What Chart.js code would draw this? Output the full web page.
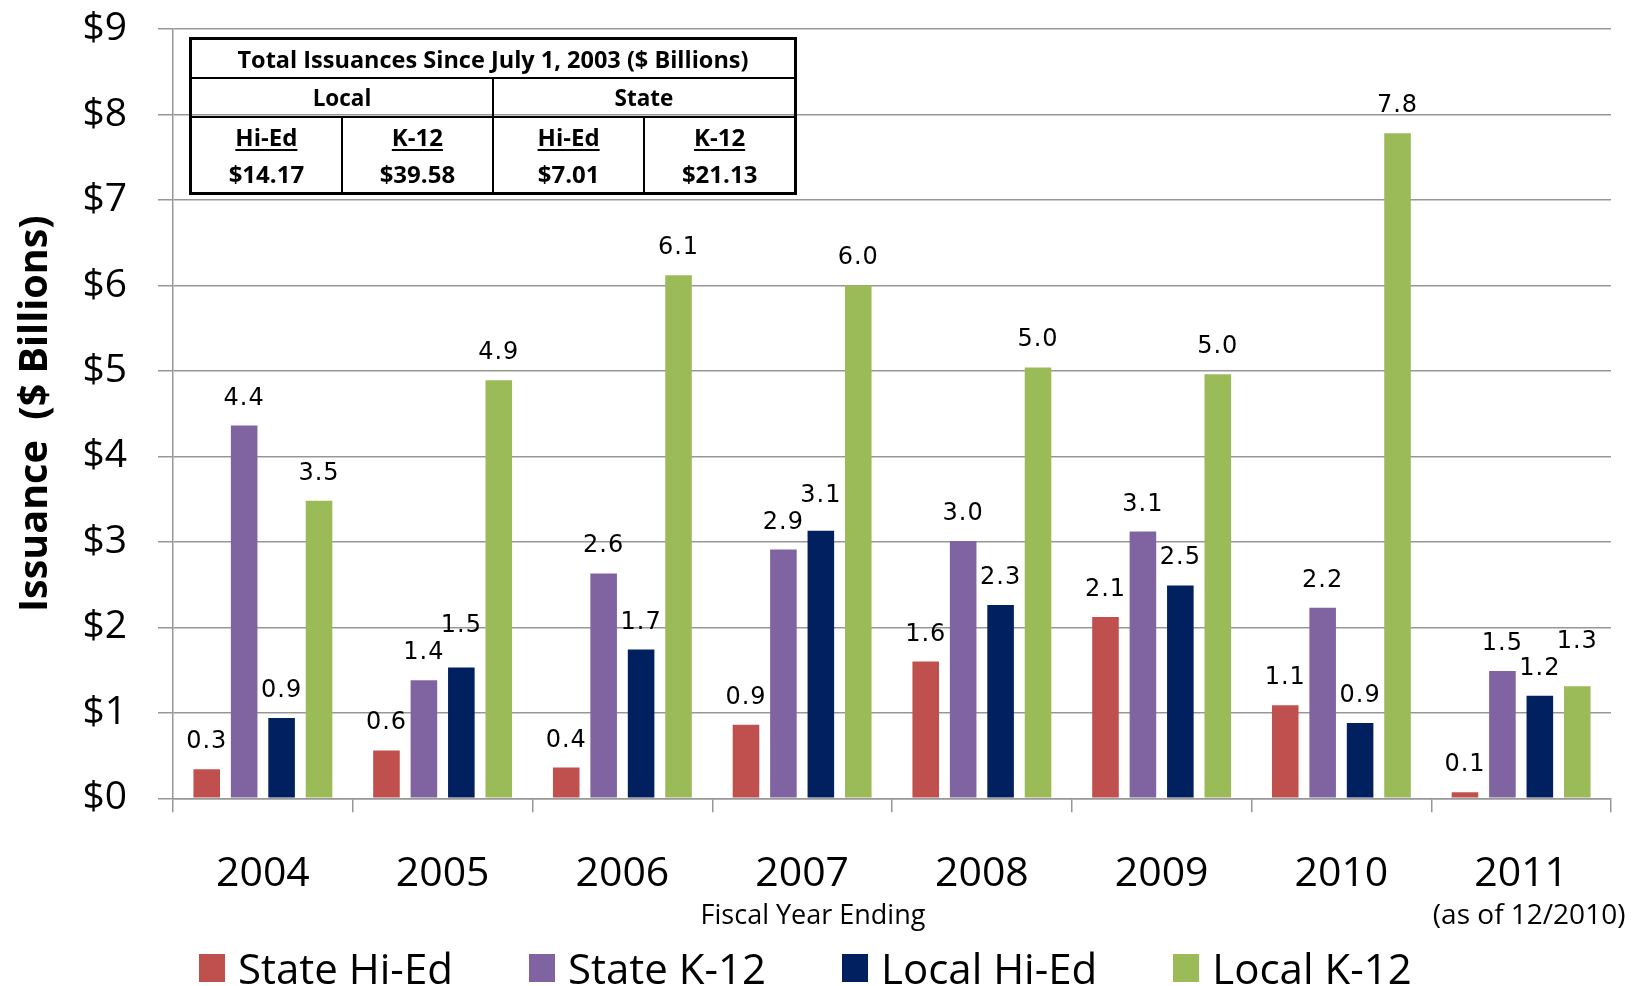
<!DOCTYPE html>
<html>
<head>
<meta charset="utf-8">
<script src="https://cdn.jsdelivr.net/npm/chart.js@4.4.0/dist/chart.umd.min.js"></script>
<style>
  html, body { margin: 0; padding: 0; background: #fff; }
  #wrap { position: relative; width: 1643px; height: 986px; overflow: hidden; }
  #c { position: absolute; left: 0; top: 0; }
  #tot { position: absolute; left: 189px; top: 37px; width: 608px; height: 155px;
         border-collapse: collapse; border: 3px solid #000; font-family: 'Open Sans', sans-serif;
         font-weight: bold; color: #000; table-layout: fixed; }
  #tot td { border: 2px solid #000; text-align: center; padding: 0; }
  #tot .t { font-size: 23.5px; height: 37px; }
  #tot .g { font-size: 22.5px; height: 37px; }
  #tot .v { font-size: 24px; line-height: 37px; vertical-align: middle; }
  #tot .v u { text-decoration-thickness: 2px; text-underline-offset: 3px; }
  #legend { position: absolute; left: 199px; top: 943px; height: 50px; display: flex; align-items: center;
            font-family: 'Open Sans', sans-serif; font-size: 42px; color: #000; white-space: nowrap; }
  #legend .it { display: flex; align-items: center; margin-right: 76px; line-height: 50px; }
  #legend .sw { width: 26px; height: 28px; margin-right: 13px; flex: none; }
</style>
</head>
<body>
<div id="wrap">
  <canvas id="c" width="1643" height="986"></canvas>
  <table id="tot"></table>
  <div id="legend"></div>
</div>
<script>
// ---- data ----
const categories = ['2004', '2005', '2006', '2007', '2008', '2009', '2010', '2011'];
const seriesNames = ['State Hi-Ed', 'State K-12', 'Local Hi-Ed', 'Local K-12'];
const stateHiEd  = [0.34, 0.56, 0.36, 0.86, 1.60, 2.12, 1.09, 0.07];
const stateK12   = [4.36, 1.38, 2.63, 2.91, 3.01, 3.12, 2.23, 1.49];
const localHiEd  = [0.94, 1.53, 1.74, 3.13, 2.26, 2.49, 0.88, 1.20];
const localK12   = [3.48, 4.89, 6.12, 6.00, 5.04, 4.96, 7.78, 1.31];
const yTickValues = [0, 1, 2, 3, 4, 5, 6, 7, 8, 9];
const xTitle = 'Fiscal Year Ending';
const lastYearNote = '(as of 12/2010)';
const yTitle = 'Issuance  ($ Billions)';
const tableTitle = 'Total Issuances Since July 1, 2003 ($ Billions)';
const tableGroups = ['Local', 'State'];
const tableSubs = ['Hi-Ed', 'K-12', 'Hi-Ed', 'K-12'];
const tableTotals = ['$14.17', '$39.58', '$7.01', '$21.13'];

const colors = ['#C0504D', '#8064A2', '#002060', '#9BBB59'];
const seriesValues = [stateHiEd, stateK12, localHiEd, localK12];

// ---- table ----
(function buildTable() {
  const t = document.getElementById('tot');
  let h = '<tr><td class="t" colspan="4">' + tableTitle + '</td></tr>';
  h += '<tr>' + tableGroups.map(g => '<td class="g" colspan="2">' + g + '</td>').join('') + '</tr>';
  h += '<tr>' + tableSubs.map((s, i) => '<td class="v"><u>' + s + '</u><br>' + tableTotals[i] + '</td>').join('') + '</tr>';
  t.innerHTML = h;
})();

// ---- legend ----
(function buildLegend() {
  const l = document.getElementById('legend');
  l.innerHTML = seriesNames.map((n, i) =>
    '<div class="it"><div class="sw" style="background:' + colors[i] + '"></div><span>' + n + '</span></div>').join('');
})();

// ---- label plugin ----
const labelPlugin = {
  id: 'barLabels',
  afterDatasetsDraw(chart) {
    const ctx = chart.ctx;
    ctx.save();
    ctx.font = '24px "DejaVu Sans"';
    if ('letterSpacing' in ctx) ctx.letterSpacing = '1px';
    ctx.fillStyle = '#000';
    ctx.textAlign = 'center';
    ctx.textBaseline = 'alphabetic';
    const n = chart.data.labels.length;
    for (let i = 0; i < n; i++) {
      let prevBase = null;
      chart.data.datasets.forEach((ds, di) => {
        const el = chart.getDatasetMeta(di).data[i];
        let base = el.y - 21;
        if (prevBase !== null && base > prevBase - 27 && base < prevBase + 22) {
          base = prevBase - 27;
        }
        ctx.fillText(ds.data[i].toFixed(1), el.x, base);
        prevBase = base;
      });
    }
    if ('letterSpacing' in ctx) ctx.letterSpacing = '0px';
    // axis texts
    ctx.font = '27px "Open Sans"';
    ctx.fillText(xTitle, 813, 924);
    const xs = chart.scales.x;
    ctx.font = '28px "Open Sans"';
    ctx.fillText(lastYearNote, xs.getPixelForValue(categories.length - 1) + 8, 924);
    ctx.restore();
  }
};

const gridColor = '#979797';

new Chart(document.getElementById('c'), {
  type: 'bar',
  data: {
    labels: categories,
    datasets: seriesNames.map((name, i) => ({
      label: name,
      data: seriesValues[i],
      backgroundColor: colors[i],
      borderWidth: 0,
      categoryPercentage: 0.833,
      barPercentage: 0.71
    }))
  },
  options: {
    responsive: false,
    animation: false,
    layout: { padding: { top: 29, right: 32, left: 0, bottom: 0 } },
    plugins: { legend: { display: false }, tooltip: { enabled: false }, title: { display: false } },
    scales: {
      x: {
        grid: { display: true, drawOnChartArea: false, drawTicks: true, tickLength: 14, offset: true,
                color: gridColor, lineWidth: 1.5 },
        border: { color: gridColor, width: 1.5 },
        ticks: { font: { family: 'Open Sans', size: 41 }, color: '#000', padding: 37, maxRotation: 0 },
        afterFit: s => { s.height = 187.7; s.paddingTop = 0; s.paddingBottom = 0; }
      },
      y: {
        min: 0, max: 9,
        afterBuildTicks: s => { s.ticks = yTickValues.map(v => ({ value: v })); },
        ticks: { callback: v => '$' + v, font: { family: 'Open Sans', size: 39 }, color: '#000', padding: 31 },
        grid: { color: gridColor, lineWidth: 1.5, tickLength: 15 },
        border: { color: gridColor, width: 1.5 },
        title: { display: true, text: yTitle, color: '#000',
                 font: { family: 'Open Sans', weight: 'bold', size: 39.5 }, padding: { top: 12, bottom: 0 } },
        afterFit: s => { s.width = 173; s.paddingTop = 0; s.paddingBottom = 0; }
      }
    }
  },
  plugins: [labelPlugin]
});
</script>
</body>
</html>
